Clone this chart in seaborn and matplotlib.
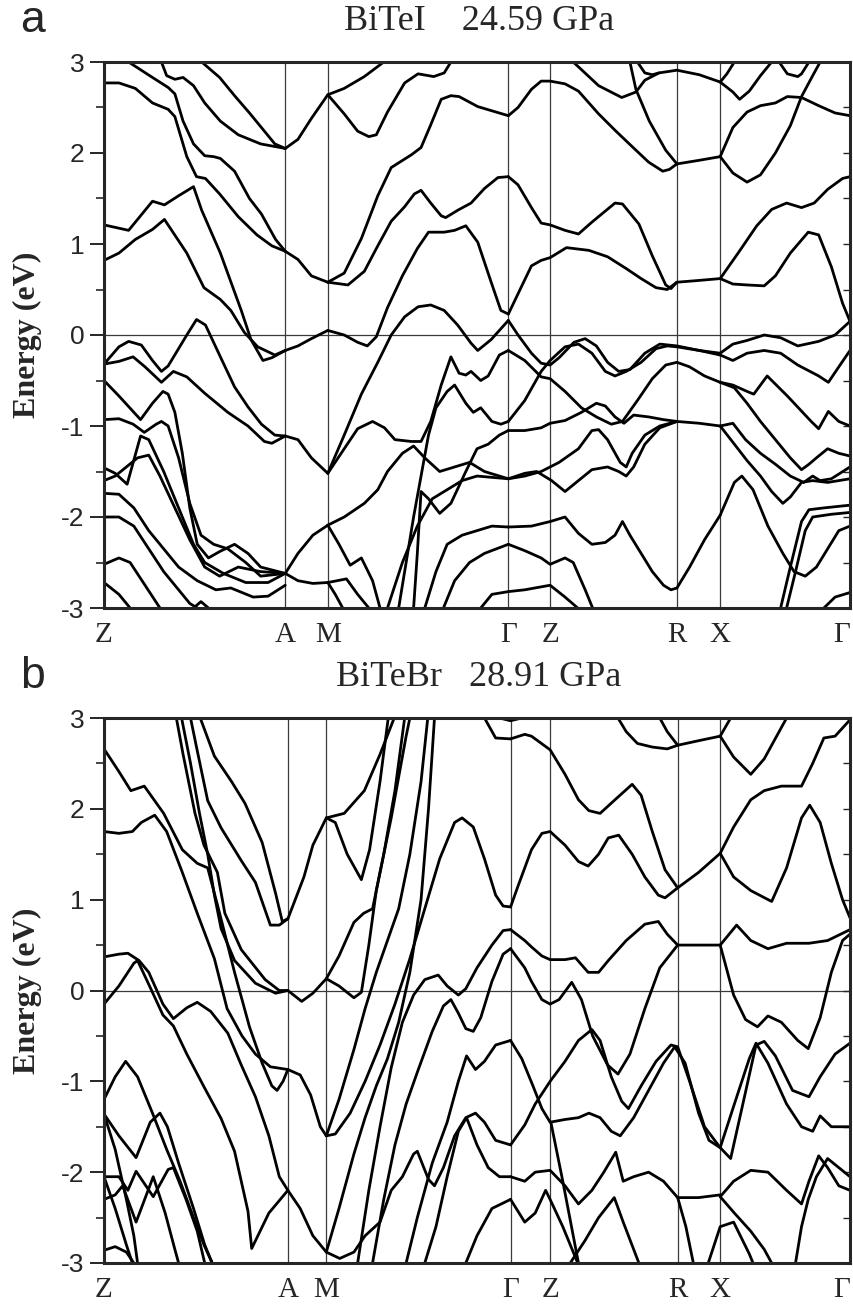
import numpy as np
import pandas as pd
import matplotlib
matplotlib.use("Agg")
import matplotlib.pyplot as plt
from matplotlib.ticker import MultipleLocator
import seaborn as sns

# ---------------- data ----------------
sym_labels = ["Z", "A", "M", "Γ", "Z", "R", "X", "Γ"]
sym_pos_a = [0, 24.3, 30.0, 54.2, 59.8, 76.8, 82.6, 100]
sym_pos_b = [0, 24.65, 29.8, 54.5, 59.8, 76.9, 82.6, 100]
ytick_vals = [-3, -2, -1, 0, 1, 2, 3]
titles = ["BiTeI    24.59 GPa", "BiTeBr   28.91 GPa"]
panel_letters = ["a", "b"]

# panel a : bands as (k, E) points, k in % of path length
a_za = [
    [(13.1,3.0),(15.5,2.83),(17.5,2.63),(19.5,2.44),(21.1,2.28),(22.9,2.10),(24.3,2.05)],
    [(7.7,3.0),(8.4,2.85),(9.5,2.81),(10.6,2.83),(12.0,2.74),(13.5,2.55),(15.6,2.35),(18.0,2.2),(21.0,2.1),(24.3,2.05)],
    [(3.3,3.0),(6.5,2.83),(8.6,2.72),(9.5,2.65),(10.6,2.35),(12.0,2.1),(13.5,1.97),(14.7,1.96),(15.6,1.94),(17.5,1.8),(19.5,1.5),(21.1,1.33),(23.0,1.05),(24.3,0.92)],
    [(0,2.77),(2,2.77),(4.2,2.71),(6.5,2.55),(8.6,2.48),(9.5,2.4),(11.1,1.96),(12.4,1.74),(13.6,1.72),(15.5,1.55),(18,1.3),(20.5,1.1),(22.5,0.98),(24.3,0.92)],
    [(0,1.21),(3.3,1.15),(6.5,1.47),(8.1,1.43),(10,1.53),(12,1.63),(13.1,1.37),(15.6,0.9),(18.4,0.27),(19.7,-0.05),(21.3,-0.28),(22.5,-0.25),(24.3,-0.17)],
    [(0,0.82),(2,0.9),(4.2,1.05),(6.5,1.16),(8.1,1.27),(11.1,0.9),(13.4,0.52),(15.6,0.39),(17,0.27),(18.8,0.03),(20.6,-0.13),(22.9,-0.22),(24.3,-0.17)],
    [(0,-0.32),(2,-0.13),(3.3,-0.07),(5,-0.11),(6.5,-0.28),(7.7,-0.4),(8.6,-0.34),(11.1,0.0),(12.4,0.17),(13.6,0.11),(15.6,-0.24),(17.5,-0.57),(19.3,-0.79),(21.1,-0.98),(22.9,-1.1),(24.3,-1.11)],
    [(0,-0.32),(2,-0.29),(3.9,-0.24),(5.5,-0.35),(7.7,-0.52),(9.3,-0.4),(11.1,-0.46),(13.5,-0.64),(16.6,-0.85),(19.3,-1.0),(21.5,-1.17),(22.5,-1.19),(24.3,-1.11)],
    [(0,-0.5),(2,-0.67),(4.9,-0.93),(6.5,-0.75),(7.9,-0.62),(8.6,-0.65),(9.5,-0.85),(10.5,-1.3),(11.5,-1.9),(12.5,-2.3),(14,-2.45),(15.5,-2.38),(17.5,-2.3),(19.3,-2.4),(21,-2.55),(24.3,-2.62)],
    [(0,-0.93),(2,-0.92),(3.9,-0.98),(5.4,-1.07),(7,-0.98),(7.7,-0.95),(8.6,-1.0),(10,-1.35),(11.5,-1.85),(13,-2.2),(14.7,-2.3),(16.6,-2.35),(19,-2.5),(21,-2.65),(24.3,-2.62)],
    [(0,-1.46),(1.5,-1.52),(3.1,-1.64),(4.9,-1.11),(6.0,-1.15),(8,-1.5),(10,-1.9),(12,-2.3),(13.5,-2.5),(16,-2.62),(19,-2.72),(22,-2.72),(24.3,-2.62)],
    [(0,-1.6),(1.5,-1.55),(3,-1.45),(4.5,-1.35),(6,-1.32),(7.5,-1.55),(9.5,-1.9),(11.5,-2.25),(13.5,-2.55),(15.5,-2.65),(18,-2.55),(21,-2.6),(24.3,-2.62)],
    [(0,-1.74),(2,-1.75),(4,-1.9),(6,-2.15),(8,-2.35),(10,-2.55),(12.5,-2.7),(15,-2.8),(17,-2.78),(20,-2.88),(22,-2.87),(24.3,-2.75)],
    [(0,-2.0),(2,-2.0),(4,-2.1),(6,-2.35),(8,-2.6),(10,-2.8),(11.5,-2.95),(12.5,-3.0)],
    [(0,-2.52),(2,-2.45),(3.5,-2.5),(5.5,-2.75),(7.5,-3.0)],
    [(0,-2.72),(2,-2.85),(3.5,-3.0)],
    [(12,-3.0),(13,-2.93),(14,-3.0)],
]
a_mg = [
    [(24.3,2.05),(26,2.15),(27.8,2.38),(30,2.64),(32.2,2.71),(34.9,2.84),(37.5,3.0)],
    [(30,2.64),(32.2,2.43),(34,2.24),(35.5,2.18),(36.5,2.2),(38,2.45),(40.3,2.77),(42.1,2.87),(44.2,2.84),(45.6,2.88),(46.5,3.0)],
    [(24.3,0.92),(26,0.83),(27.8,0.65),(30,0.58)],
    [(30,0.58),(32.2,0.68),(34.5,1.06),(36.7,1.53),(38.5,1.84),(41.2,1.98),(42.5,2.06),(43.8,2.31),(45.2,2.59),(46.5,2.63),(47.6,2.62),(50.1,2.51),(54.2,2.41)],
    [(30,0.58),(32.7,0.55),(34.9,0.7),(36.7,0.98),(38.5,1.25),(40.3,1.41),(41.6,1.55),(42.5,1.59),(43.8,1.45),(45.2,1.31),(45.8,1.29),(47.4,1.37),(49.2,1.45),(51,1.61),(52.8,1.73),(54.2,1.74)],
    [(24.3,-0.17),(26,-0.12),(27.8,-0.04),(30,0.05)],
    [(30,0.05),(32.2,0.0),(34,-0.08),(35.3,-0.12),(36.5,-0.02),(38,0.3),(40,0.65),(42,0.95),(43.5,1.13),(45.6,1.13),(47,1.15),(48.5,1.2),(50.1,1.02),(51.9,0.58),(53.2,0.27),(54.2,0.23)],
    [(30,-1.52),(32.2,-1.1),(34.5,-0.65),(36.7,-0.3),(38.5,0.0),(40.3,0.2),(42.1,0.31),(43.8,0.33),(45.6,0.27),(47.4,0.11),(49.2,-0.09),(50.1,-0.17),(51.9,-0.05),(54.2,0.16)],
    [(24.3,-1.11),(26,-1.15),(27.8,-1.35),(30,-1.52)],
    [(30,-1.52),(32.2,-1.25),(34,-1.03),(36,-0.95),(37.6,-1.02),(39,-1.15),(41.2,-1.17),(42.5,-1.17),(43.8,-0.95),(45.2,-0.55),(46.5,-0.24),(47.6,-0.42),(48.5,-0.44),(49.2,-0.4),(50.5,-0.5),(51.5,-0.45),(53,-0.22),(54.2,-0.17)],
    [(39.5,-3.0),(40.5,-2.5),(41.5,-2.0),(42.5,-1.55),(43.5,-1.1),(44.5,-0.8),(46,-0.62),(47,-0.55),(48.5,-0.75),(49.5,-0.85),(50.5,-0.8),(52,-0.95),(53.2,-0.98),(54.2,-0.95)],
    [(41.5,-3.0),(42,-2.4),(42.5,-1.72),(43.5,-1.8),(45,-1.96),(46.5,-1.85),(48.5,-1.5),(50,-1.25),(51.5,-1.2),(53,-1.1),(54.2,-1.05)],
    [(24.3,-2.62),(26,-2.4),(28,-2.2),(30,-2.09)],
    [(24.3,-2.62),(26,-2.7),(28,-2.73),(30,-2.72)],
    [(30,-2.09),(32.2,-2.0),(34.9,-1.85),(36.7,-1.7),(38,-1.5),(40,-1.3),(41.5,-1.22),(43,-1.35),(45,-1.5),(47,-1.45),(49,-1.4),(51,-1.5),(54.2,-1.58)],
    [(30,-2.09),(31.5,-2.3),(33,-2.53),(34.5,-2.45),(36,-2.7),(37,-3.0)],
    [(30,-2.72),(32.5,-2.68),(34,-2.85),(35.5,-3.0)],
    [(30,-2.72),(31,-2.85),(32,-3.0)],
    [(38,-3.0),(40,-2.5),(42,-2.1),(44,-1.8),(46,-1.7),(48,-1.6),(50,-1.55),(54.2,-1.58)],
    [(43,-3.0),(44.5,-2.6),(46,-2.3),(48,-2.2),(50,-2.15),(52,-2.1),(54.2,-2.11)],
    [(45.5,-3.0),(47,-2.7),(49,-2.5),(51,-2.4),(54.2,-2.3)],
    [(50.5,-3.0),(52,-2.85),(54.2,-2.82)],
]
a_gzrx = [
    [(54.2,2.41),(55.5,2.5),(57.3,2.7),(58.6,2.79),(59.8,2.79),(61.8,2.76),(63.6,2.68),(66.3,2.43),(68.5,2.25),(70.8,2.07),(73,1.9),(74.9,1.8),(75.8,1.82),(76.8,1.88)],
    [(62.9,3.0),(66.3,2.74),(69.4,2.61),(71.3,2.67),(72.5,2.8),(74.4,2.88),(76.8,2.91),(79.8,2.86),(82.6,2.78)],
    [(70.5,3.0),(71.3,2.7),(73.1,2.35),(75.3,2.03),(76.8,1.88)],
    [(71.5,3.0),(72.5,2.88),(73.5,2.86),(74.4,2.88)],
    [(76.8,1.88),(79.8,1.92),(82.6,1.96)],
    [(54.2,1.74),(55.5,1.65),(57.3,1.4),(58.6,1.23),(59.8,1.21),(61.8,1.15),(63.6,1.11),(65.4,1.24),(68.5,1.45),(69.5,1.44),(71.7,1.22),(73.5,0.87),(75.3,0.55),(76,0.51),(76.8,0.58)],
    [(54.2,0.23),(55.6,0.47),(57.3,0.76),(58.6,0.82),(59.8,0.85),(62,0.96),(65,0.93),(67.5,0.86),(70,0.73),(72,0.62),(74,0.52),(75.5,0.5),(76.8,0.58)],
    [(76.8,0.58),(79.8,0.6),(82.6,0.62)],
    [(54.2,0.16),(55.5,0.0),(57.3,-0.2),(58.6,-0.31),(59.8,-0.33),(61,-0.25),(63,-0.08),(64.5,-0.04),(66,-0.12),(67.5,-0.3),(69,-0.4),(70.5,-0.38),(72.5,-0.2),(74.5,-0.1),(76.8,-0.12),(79.8,-0.17),(82.6,-0.2)],
    [(54.2,-0.17),(56.4,-0.28),(58.6,-0.46),(59.8,-0.48),(61.8,-0.62),(64,-0.8),(66,-0.9),(68,-0.98),(69.5,-0.95),(71.5,-0.72),(73.5,-0.48),(75.3,-0.33),(76.8,-0.3),(78.5,-0.35),(80.5,-0.45),(82.6,-0.52)],
    [(54.2,-0.95),(56.4,-0.72),(58.6,-0.4),(59.8,-0.28),(61.8,-0.13),(63.6,-0.1),(65.4,-0.2),(67.2,-0.4),(68.5,-0.45),(70,-0.4),(72,-0.3),(74,-0.15),(75.5,-0.12),(76.8,-0.13),(79.8,-0.17),(82.6,-0.22)],
    [(54.2,-1.05),(56.4,-1.05),(58.6,-1.02),(59.8,-0.97),(61.8,-0.94),(64,-0.85),(66,-0.75),(67.2,-0.78),(68.5,-0.9),(69.7,-0.97),(71,-0.88),(73,-0.9),(75,-0.93),(76.8,-0.95)],
    [(54.2,-1.58),(56.4,-1.55),(58.6,-1.5),(61,-1.4),(63.6,-1.25),(65.4,-1.05),(66.3,-1.04),(67.5,-1.15),(69.2,-1.4),(70,-1.45),(70.8,-1.3),(72.5,-1.1),(74.5,-1.0),(76.8,-0.95)],
    [(54.2,-1.58),(56.4,-1.52),(58,-1.5),(60,-1.6),(61.8,-1.72),(63.6,-1.6),(65.4,-1.48),(67.5,-1.45),(69,-1.5),(70,-1.55),(71,-1.45),(72.5,-1.2),(74.5,-1.02),(76.8,-0.95)],
    [(76.8,-0.95),(79.8,-0.97),(82.6,-1.0)],
    [(54.2,-2.11),(57.3,-2.1),(59.8,-2.05),(61.8,-2.0),(63.6,-2.18),(65.4,-2.3),(67.2,-2.28),(68.5,-2.2),(69.5,-2.05),(70.5,-2.2),(72,-2.4),(73.5,-2.6),(75,-2.75),(76,-2.8),(76.8,-2.78)],
    [(76.8,-2.78),(78.5,-2.55),(80.5,-2.25),(82.6,-1.98)],
    [(54.2,-2.82),(56.4,-2.8),(59.8,-2.75),(61.8,-2.88),(63.5,-3.0)],
    [(54.2,-2.3),(56.4,-2.37),(58.6,-2.45),(59.8,-2.52),(61.8,-2.45),(62.9,-2.5),(64.5,-2.8),(65.5,-3.0)],
]
a_xg = [
    [(82.6,2.78),(83.5,2.87),(84.5,3.0)],
    [(82.6,2.78),(84.3,2.67),(85.2,2.59),(86.5,2.68),(88,2.85),(89.5,3.0)],
    [(90.5,3.0),(91.6,2.87),(93,2.84),(93.5,2.87),(94.5,3.0)],
    [(82.6,1.96),(84.3,1.78),(86.2,1.68),(88,1.76),(90,2.0),(92,2.3),(93.5,2.62),(95,2.85),(96,3.0)],
    [(82.6,1.96),(84.3,2.28),(86.2,2.45),(88,2.52),(90,2.55),(91.6,2.62),(93.5,2.61),(95.8,2.52),(98,2.44),(100,2.41)],
    [(82.6,0.62),(84.3,0.56),(86.2,0.55),(88.5,0.54),(90,0.65),(92,0.9),(94.4,1.13),(95.8,1.1),(97.5,0.75),(99,0.35),(100,0.15)],
    [(82.6,0.62),(85,0.9),(87.5,1.2),(89.5,1.38),(91.5,1.45),(93.5,1.4),(95.2,1.45),(97,1.6),(99,1.72),(100,1.74)],
    [(82.6,-0.2),(84.3,-0.1),(86.2,-0.06),(88.5,0.0),(90.7,-0.03),(93,-0.12),(95.8,-0.07),(98,0.0),(100,0.15)],
    [(82.6,-0.22),(84.3,-0.28),(86.2,-0.2),(88.5,-0.17),(90.7,-0.2),(93,-0.33),(95.8,-0.45),(97.1,-0.52),(98.5,-0.35),(100,-0.17)],
    [(82.6,-0.52),(84.3,-0.55),(86.2,-0.62),(87.1,-0.65),(88.9,-0.45),(91.6,-0.67),(94.8,-0.95),(95.8,-1.03),(97.1,-0.84),(98.5,-0.95),(100,-1.0)],
    [(82.6,-0.52),(84.5,-0.58),(86.2,-0.75),(88,-0.95),(90,-1.15),(92,-1.35),(93.5,-1.48),(94.5,-1.42),(95.5,-1.35),(97,-1.25),(98.5,-1.3),(100,-1.33)],
    [(82.6,-1.0),(84.3,-0.97),(86,-1.15),(88,-1.3),(90,-1.42),(92,-1.55),(93.8,-1.62),(95,-1.55),(96,-1.6),(97.5,-1.58),(100,-1.45)],
    [(82.6,-1.0),(84.5,-1.2),(86.2,-1.38),(88,-1.55),(89.5,-1.72),(91,-1.85),(92,-1.78),(93.5,-1.62),(95,-1.6),(97,-1.62),(100,-1.58)],
    [(82.6,-1.98),(84.5,-1.62),(85.5,-1.55),(87,-1.7),(89,-2.1),(91,-2.4),(92.5,-2.6),(94,-2.65),(95.5,-2.55),(97,-2.35),(98.5,-2.15),(100,-2.1)],
    [(90.7,-3.0),(92,-2.55),(93.5,-2.05),(94.5,-1.92),(96.5,-1.9),(100,-1.87)],
    [(91.5,-3.0),(92.7,-2.6),(94,-2.15),(95,-2.0),(97.5,-1.97),(100,-1.95)],
    [(96.5,-3.0),(98,-2.88),(100,-2.83)],
]

# panel b
b_za = [
    [(12.9,3.0),(14.8,2.58),(17.1,2.3),(18.9,2.06),(21.2,1.63),(23.0,1.07),(23.9,0.76),(24.65,0.79)],
    [(11.6,3.0),(12.5,2.64),(13.9,2.09),(15.7,1.79),(18.4,1.43),(20.3,1.19),(22.3,0.72),(23.5,0.72),(24.65,0.79)],
    [(10.4,3.0),(11.6,2.5),(12.8,1.95),(13.9,1.5),(14.8,1.05),(15.7,0.68),(17.5,0.33),(20.3,0.08),(23,-0.03),(24.65,0.0)],
    [(9.7,3.0),(10.6,2.6),(12.2,1.95),(13.4,1.6),(14.3,1.45),(15.2,1.3),(16.2,0.85),(18.4,0.45),(21.6,0.12),(23.5,0.0),(24.65,0.0)],
    [(0,2.66),(2,2.41),(3.6,2.2),(5.4,2.25),(8,1.95),(10.5,1.55),(12.5,1.4),(13.9,1.35),(15.5,0.85),(17.5,0.2),(19.5,-0.4),(21.2,-0.8),(22.5,-1.05),(23.2,-1.1),(24,-1.0),(24.65,-0.87)],
    [(0,1.75),(2,1.73),(3.8,1.75),(5,1.85),(6.8,1.93),(8.4,1.75),(10.5,1.3),(12.5,0.85),(14.8,0.35),(16.5,-0.2),(18.5,-0.5),(20.3,-0.7),(22.3,-0.84),(24.65,-0.87)],
    [(0,0.37),(2,0.4),(3.2,0.41),(4.7,0.33),(6,0.2),(7.9,-0.15),(9.3,-0.31),(11.1,-0.19),(12.5,-0.13),(14.3,-0.23),(16.6,-0.47),(18.4,-0.82),(20.3,-1.17),(22.1,-1.6),(23.5,-2.05),(24.65,-2.2)],
    [(0,-0.15),(2,0.05),(4,0.3),(4.5,0.33),(6.1,0.05),(7.9,-0.27),(9.3,-0.39),(11.1,-0.7),(13.4,-1.06),(15.7,-1.41),(17.5,-1.77),(19.3,-2.43),(19.8,-2.84),(22.1,-2.45),(24.65,-2.2)],
    [(0,-1.2),(1.5,-0.95),(2.9,-0.78),(4.5,-0.95),(6.5,-1.35),(8.4,-1.75),(10.2,-2.1),(12,-2.5),(13.4,-2.8),(14.5,-3.0)],
    [(0,-1.36),(2,-1.6),(4.3,-1.84),(6.2,-1.45),(7.5,-1.35),(8.5,-1.5),(10,-1.9),(12,-2.4),(13.5,-2.8),(14.5,-3.0)],
    [(0,-1.36),(1.5,-1.75),(3,-2.3),(4,-2.7),(4.5,-3.0)],
    [(0,-2.05),(2,-2.05),(3.2,-2.2),(4.3,-1.99),(6.6,-2.27),(8.6,-1.97),(9.3,-1.95),(11,-2.3),(12.5,-2.65),(13.5,-3.0)],
    [(0,-2.3),(1.5,-2.25),(2.5,-2.15),(4.3,-2.55),(6.6,-2.05),(8.2,-2.45),(9.5,-2.85),(10,-3.0)],
    [(0,-2.86),(1.5,-2.82),(3,-2.88),(4,-3.0)],
    [(0,-2.05),(1.5,-2.4),(3,-2.8),(3.8,-3.0)],
]
b_mg = [
    [(24.65,0.79),(26.8,1.25),(28,1.6),(29.8,1.9)],
    [(29.8,1.9),(31,1.85),(32.6,1.5),(34.5,1.22),(35.6,1.55),(37,2.3),(38.1,3.0)],
    [(29.8,1.9),(32.2,1.95),(34.9,2.2),(37,2.6),(38.9,3.0)],
    [(24.65,0.0),(26.5,-0.12),(28,-0.03),(29.8,0.13)],
    [(29.8,0.13),(31.5,0.05),(33.5,-0.08),(34.5,-0.02),(35.5,0.5),(36.5,1.1),(37.5,1.5),(39,2.2),(40.3,3.0)],
    [(29.8,0.13),(31.5,0.38),(33.5,0.75),(34.8,0.85),(36,0.9),(37,1.3),(38.5,1.9),(40.5,2.8),(41,3.0)],
    [(24.65,-0.87),(26.3,-0.93),(27.7,-1.15),(29,-1.5),(29.8,-1.6)],
    [(29.8,-1.6),(31.5,-1.2),(33.5,-0.65),(35,-0.2),(36.5,0.2),(38,0.55),(39.5,0.9),(41,1.5),(42.5,2.3),(43.4,3.0)],
    [(29.8,-1.6),(31,-1.58),(33,-1.35),(35,-1.0),(37,-0.6),(39,-0.15),(41,0.35),(43,0.9),(45,1.45),(47,1.85),(48,1.9),(49.5,1.8),(51,1.45),(52.5,1.05),(53.5,0.93),(54.5,0.92)],
    [(29.8,-2.88),(31.5,-2.4),(33.5,-1.8),(35,-1.4),(36.5,-1.05),(38,-0.75),(39.5,-0.35),(41,0.2),(42.5,1.0),(43.5,2.0),(44.3,3.0)],
    [(24.65,-2.2),(26.3,-2.4),(28,-2.7),(29.8,-2.88)],
    [(29.8,-2.88),(31.6,-2.95),(33.5,-2.88),(35,-2.7),(37,-2.55),(38.5,-2.2),(40,-2.05),(41.5,-1.8),(42,-1.77),(43.5,-2.08),(44.3,-2.15),(45.5,-1.95),(47,-1.6),(48.5,-1.4),(49.8,-1.35),(51,-1.45),(52.5,-1.65),(54.5,-1.7)],
    [(34,-3.0),(35.5,-2.2),(37,-1.5),(38.5,-0.85),(40,-0.35),(41.5,-0.05),(43,0.12),(44.8,0.17),(46,0.05),(47.5,-0.05),(48.5,0.02),(50,0.25),(52,0.5),(53.5,0.66),(54.5,0.67)],
    [(36,-3.0),(37.5,-2.3),(39,-1.7),(40.5,-1.25),(42,-0.9),(44,-0.45),(45.5,-0.17),(46.5,-0.1),(47.5,-0.25),(48.5,-0.42),(49.5,-0.45),(50.5,-0.3),(52,0.1),(53.5,0.4),(54.5,0.46)],
    [(40.5,-3.0),(42,-2.5),(44,-1.9),(46,-1.45),(47.5,-1.0),(48.6,-0.72),(49.8,-0.87),(51,-0.78),(52.5,-0.6),(54.5,-0.55)],
    [(43,-3.0),(44.5,-2.6),(46,-2.05),(47.5,-1.55),(48.6,-1.4),(50,-1.7),(51.5,-1.95),(53,-2.05),(54.5,-2.05)],
    [(48.5,-3.0),(50,-2.7),(52,-2.4),(54.5,-2.3)],
    [(51,3.0),(52.5,2.78),(54.5,2.77)],
    [(53,3.0),(54.5,2.97),(56,3.0)],
]
b_gzrx = [
    [(54.5,2.77),(56.4,2.82),(57.3,2.8),(59.8,2.65),(61.8,2.38),(63.6,2.1),(65,1.98),(66.5,1.95),(68.5,2.1),(70.8,2.27),(72,2.15),(73.5,1.75),(75.2,1.33),(76.9,1.13)],
    [(68.9,3.0),(70,2.85),(71.5,2.72),(73.5,2.68),(75.5,2.66),(76.9,2.7),(79.7,2.75),(82.6,2.8)],
    [(74.5,3.0),(75.5,2.85),(76.9,2.7)],
    [(54.5,0.92),(55.5,1.15),(57.3,1.55),(58.7,1.73),(59.8,1.75),(61.8,1.6),(63.6,1.42),(64.9,1.37),(66.3,1.5),(67.6,1.68),(69,1.71),(70.8,1.5),(72.5,1.25),(74.3,1.05),(75.2,1.02),(76.9,1.13),(79.7,1.3),(82.6,1.51)],
    [(54.5,0.67),(56.4,0.55),(57.3,0.48),(58.7,0.38),(59.8,0.34),(61.8,0.34),(63.2,0.36),(64.9,0.2),(66.3,0.2),(67.6,0.33),(70,0.55),(72.5,0.73),(74.3,0.76),(75.5,0.62),(76.9,0.5),(82.6,0.5)],
    [(54.5,0.46),(56.4,0.25),(57.3,0.1),(58.7,-0.1),(59.8,-0.15),(61,-0.1),(62.7,0.09),(64,-0.1),(65.5,-0.5),(67.5,-0.82),(68.9,-0.92),(70.5,-0.7),(72.5,-0.2),(74.5,0.25),(76.9,0.5)],
    [(54.5,-0.55),(56,-0.75),(57.5,-1.05),(58.7,-1.3),(59.8,-1.45),(61.8,-1.42),(63.6,-1.4),(65,-1.35),(66.5,-1.4),(68,-1.55),(69.2,-1.6),(71,-1.4),(73,-1.1),(75,-0.8),(76.5,-0.62),(77.9,-0.8),(79.7,-1.35),(81.1,-1.65),(82.6,-1.73)],
    [(54.5,-1.7),(56.4,-1.48),(57.8,-1.25),(59.8,-1.0),(61.8,-0.78),(63.6,-0.55),(65.4,-0.43),(66.5,-0.55),(68,-0.95),(69.4,-1.22),(70.3,-1.3),(72,-1.05),(74,-0.78),(76,-0.6),(76.9,-0.62),(78.5,-1.0),(80.5,-1.5),(82.6,-1.73)],
    [(54.5,-2.05),(56.4,-2.1),(57.8,-2.0),(59.8,-1.98),(61.8,-2.15),(63.6,-2.35),(65.4,-2.2),(67,-2.0),(68.6,-1.78),(69.6,-2.1),(71,-2.05),(73,-2.0),(75,-2.1),(76.9,-2.28),(79.7,-2.28),(82.6,-2.25)],
    [(54.5,-2.3),(56.4,-2.55),(57.8,-2.45),(59.2,-2.2),(59.8,-2.3),(61.5,-2.6),(62.5,-2.8),(63.5,-3.0)],
    [(62.5,-3.0),(64.5,-2.75),(66.3,-2.5),(68.4,-2.28),(69.6,-2.55),(71,-2.85),(71.7,-3.0)],
    [(59.9,-1.45),(61.5,-2.1),(63.6,-3.0)],
    [(76.9,-2.28),(78,-2.6),(79,-3.0)],
]
b_xg = [
    [(82.6,2.8),(84.4,2.57),(86.7,2.38),(88.5,2.55),(90.5,2.85),(91.5,3.0)],
    [(82.6,2.8),(83.3,2.9),(84,3.0)],
    [(82.6,1.51),(84.4,1.8),(86.7,2.1),(88.5,2.2),(90.8,2.25),(93.5,2.25),(95,2.5),(96.5,2.78),(98,2.8),(100,2.98)],
    [(82.6,1.51),(84.4,1.25),(86.7,1.1),(89.5,0.98),(91.5,1.35),(93.5,1.9),(94.6,2.04),(96,1.85),(97.5,1.4),(99,1.0),(100,0.8)],
    [(82.6,0.5),(84.8,0.72),(86.7,0.55),(89,0.46),(91.5,0.52),(94.5,0.52),(97,0.55),(100,0.67)],
    [(82.6,0.5),(84.4,-0.05),(86,-0.32),(87.6,-0.4),(89,-0.28),(90.8,-0.35),(93,-0.55),(94.4,-0.64),(96,-0.3),(97.5,0.2),(99,0.55),(100,0.62)],
    [(82.6,-1.73),(84,-1.85),(85.5,-1.3),(87.4,-0.6),(88.5,-0.56),(90,-0.72),(92.3,-1.1),(94.5,-1.17),(96,-0.95),(98,-0.7),(100,-0.58)],
    [(82.6,-1.73),(84.5,-1.25),(86.5,-0.75),(87.4,-0.58),(89,-0.8),(91.5,-1.25),(93.5,-1.5),(95,-1.55),(96,-1.38),(97.5,-1.5),(100,-1.5)],
    [(82.6,-2.27),(84.4,-2.1),(86.7,-1.98),(89,-2.0),(91.5,-2.2),(93.5,-2.35),(94.5,-2.1),(95.8,-1.82),(97,-1.95),(98.5,-2.15),(100,-2.2)],
    [(82.6,-2.27),(84.5,-2.45),(86.7,-2.65),(88.5,-2.85),(89.5,-3.0)],
    [(92.7,-3.0),(93.5,-2.6),(94.4,-2.3),(95.5,-2.05),(97,-1.85),(98.5,-1.95),(100,-2.05)],
    [(81,-3.0),(82.6,-2.6),(84.4,-2.55),(86.5,-2.9),(87,-3.0)],
]


def to_frame(groups, prefix):
    rows = []
    n = 0
    for g in groups:
        for band in g:
            for i, (k, e) in enumerate(band):
                rows.append((f"{prefix}{n}", i, k, e))
            n += 1
    return pd.DataFrame(rows, columns=["band", "order", "k", "E"])


df_a = to_frame([a_za, a_mg, a_gzrx, a_xg], "a")
df_b = to_frame([b_za, b_mg, b_gzrx, b_xg], "b")

# ---------------- style ----------------
sns.set_style("ticks")
plt.rcParams["font.family"] = ["Liberation Sans", "DejaVu Sans"]
plt.rcParams["axes.unicode_minus"] = False

W, H = 854, 1311
fig = plt.figure(figsize=(W / 100, H / 100), dpi=100)

L, R = 104, 850
panels = [
    (df_a, sym_pos_a, 62, 608),
    (df_b, sym_pos_b, 718, 1263),
]

serif = ["Liberation Serif", "DejaVu Serif"]

for idx, (df, sympos, top, bot) in enumerate(panels):
    ax = fig.add_axes([L / W, 1 - bot / H, (R - L) / W, (bot - top) / H])
    for p in sympos[1:-1]:
        ax.axvline(p, color="#3a3a3a", lw=0.9, zorder=0)
    ax.axhline(0, color="#3a3a3a", lw=0.9, zorder=0)
    sns.lineplot(data=df, x="k", y="E", units="band", estimator=None, sort=False,
                 color="black", linewidth=2.0, ax=ax, legend=False)
    for ln in ax.lines:
        ln.set_solid_joinstyle("round")
        ln.set_solid_capstyle("round")
    ax.set_xlim(0, 100)
    ax.set_ylim(-3, 3)
    ax.set_yticks(ytick_vals)
    ax.set_yticklabels([str(v) for v in ytick_vals], fontsize=19)
    ax.yaxis.set_minor_locator(MultipleLocator(0.5))
    ax.tick_params(axis="y", which="major", direction="out", length=10, width=1.4, pad=4)
    ax.tick_params(axis="y", which="minor", direction="out", length=6, width=1.2)
    sec = ax.secondary_yaxis("right")
    sec.set_yticks(ytick_vals)
    sec.yaxis.set_minor_locator(MultipleLocator(0.5))
    sec.tick_params(axis="y", which="both", direction="in", length=5, width=1.0, labelright=False)
    sec.spines["right"].set_visible(False)
    ax.set_xticks(sympos)
    ax.set_xticklabels(sym_labels, fontsize=21, family=serif)
    ax.get_xticklabels()[-1].set_horizontalalignment("right")
    ax.tick_params(axis="x", length=0, pad=10)
    ax.set_xlabel("")
    ax.set_ylabel("Energy (eV)", fontsize=23, fontweight="bold", family=serif, labelpad=14)
    for s in ax.spines.values():
        s.set_linewidth(2.2)
        s.set_visible(True)
    fig.text(479 / W, 1 - (top - 40) / H, titles[idx], ha="center", va="center",
             fontsize=26, family=serif)
    fig.text(20 / W, 1 - (top - 42) / H, panel_letters[idx], ha="left", va="center",
             fontsize=32)

fig.savefig("out.png", dpi=100)
